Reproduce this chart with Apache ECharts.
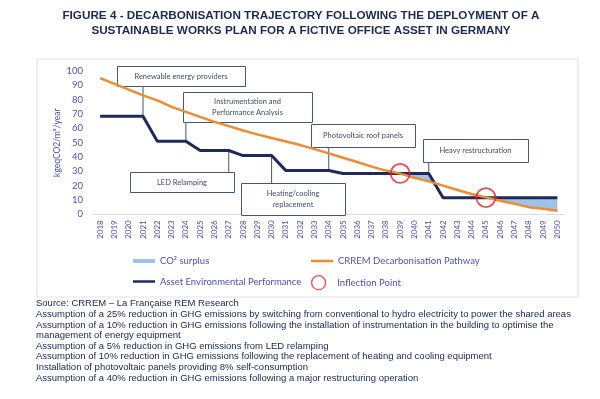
<!DOCTYPE html>
<html>
<head>
<meta charset="utf-8">
<script src="https://cdn.jsdelivr.net/npm/echarts@6/dist/echarts.min.js"></script>
<style>
html,body{margin:0;padding:0;background:#fff;}
#chart{width:600px;height:399px;}
</style>
</head>
<body>
<div id="chart"></div>
<script>
// ---------- DATA ----------
const years = ['2018','2019','2020','2021','2022','2023','2024','2025','2026','2027','2028',
  '2029','2030','2031','2032','2033','2034','2035','2036','2037','2038','2039','2040','2041',
  '2042','2043','2044','2045','2046','2047','2048','2049','2050'];

const crremPathway = [95, 91, 87, 83, 79.5, 75, 71.5, 68, 64.5, 61.5, 58.5,
  55.8, 53.3, 50.8, 48.3, 45.5, 42.5, 39.5, 36.5, 33.3, 30.5, 28.4, 25.5, 23,
  20, 17, 14.2, 11.8, 9.5, 7.3, 5, 3.8, 2.5];

const assetPerformance = [68.5, 68.5, 68.5, 68.5, 51, 51, 51, 44.5, 44.5, 44.5, 41,
  41, 41, 30.5, 30.5, 30.5, 30.5, 28.5, 28.5, 28.5, 28.5, 28.5, 28.5, 28.5,
  11.5, 11.5, 11.5, 11.5, 11.5, 11.5, 11.5, 11.5, 11.5];

const inflectionYears = ['2039', '2045'];
const inflectionValues = [28.5, 11.7];

const yTicks = { min: 0, max: 100, interval: 10 };

const annotationTexts = ['Renewable energy providers', 'Instrumentation and\nPerformance Analysis',
  'LED Relamping', 'Heating/cooling\nreplacement', 'Photovoltaic roof panels', 'Heavy restructuration'];
const annotationYears = ['2021', '2024', '2027', '2030', '2034', '2041'];

const sourceLines = [
  'Source: CRREM \u2013 La Fran\u00e7aise REM Research',
  'Assumption of a 25% reduction in GHG emissions by switching from conventional to hydro electricity to power the shared areas',
  'Assumption of a 10% reduction in GHG emissions following the installation of instrumentation in the building to optimise the',
  'management of energy equipment',
  'Assumption of a 5% reduction in GHG emissions from LED relamping',
  'Assumption of 10% reduction in GHG emissions following the replacement of heating and cooling equipment',
  'Installation of photovoltaic panels providing 8% self-consumption',
  'Assumption of a 40% reduction in GHG emissions following a major restructuring operation'
];

// ---------- LAYOUT / STYLE ----------
const annotationBoxes = [ // x, y, w, h (pixels)
  [117, 66, 128, 20],
  [183, 92, 129, 30],
  [130, 172, 104, 20],
  [241, 183, 104, 32],
  [311, 124, 104, 23],
  [423, 139, 105, 23]
];
const BLUE_TXT = '#4c50c8';
const NAVY = '#1e2a5e';
const ORANGE = '#f28a30';
const SURPLUS = '#9dc3e6';
const BOX = '#485670';

// derived: surplus polygons (navy above orange), in index units
function surplusPolygons() {
  const polys = [];
  let upper = [], lower = [];
  const n = years.length;
  const d = i => assetPerformance[i] - crremPathway[i];
  function flush() {
    if (upper.length > 1) polys.push(upper.concat(lower.slice().reverse()));
    upper = []; lower = [];
  }
  for (let i = 0; i < n; i++) {
    if (d(i) >= 0) {
      upper.push([i, assetPerformance[i]]);
      lower.push([i, crremPathway[i]]);
    }
    if (i < n - 1) {
      const a = d(i), b = d(i + 1);
      if ((a > 0 && b < 0) || (a < 0 && b > 0)) {
        const t = a / (a - b);
        const v = assetPerformance[i] + t * (assetPerformance[i + 1] - assetPerformance[i]);
        upper.push([i + t, v]); lower.push([i + t, v]);
        if (a > 0) flush();
      }
    }
  }
  flush();
  return polys;
}
const polys = surplusPolygons();

const chart = echarts.init(document.getElementById('chart'), null, { renderer: 'canvas' });

const legendText = { fontFamily: 'Lato', fontSize: 9.5, color: BLUE_TXT };

const option = {
  animation: false,
  textStyle: { fontFamily: 'Lato' },
  grid: { left: 93, right: 35.5, top: 71, bottom: 184.7, containLabel: false },
  xAxis: [{
    type: 'category', data: years, boundaryGap: true,
    axisLine: { lineStyle: { color: '#d9dbf3', width: 1 } },
    axisTick: { show: false },
    axisLabel: { rotate: 90, interval: 0, fontSize: 8, color: BLUE_TXT, margin: 6, fontFamily: 'Lato' }
  }, {
    type: 'value', min: -0.5, max: 32.5, show: false
  }],
  yAxis: {
    type: 'value', min: yTicks.min, max: yTicks.max, interval: yTicks.interval,
    splitLine: { show: false }, axisLine: { show: false }, axisTick: { show: false },
    axisLabel: { fontSize: 9.5, color: BLUE_TXT, margin: 10, fontFamily: 'Lato' },
    name: 'kgeqCO2/m\u00b2/year', nameLocation: 'middle', nameGap: 31, nameRotate: 90,
    nameMoveOverlap: false,
    nameTextStyle: { fontSize: 8.5, color: BLUE_TXT, fontFamily: 'Lato' }
  },
  legend: [
    { data: [{ name: 'CO\u00b2 surplus', icon: 'rect' }], left: 128, top: 251, itemWidth: 22, itemHeight: 4, textStyle: legendText, selectedMode: false },
    { data: [{ name: 'CRREM Decarbonisation Pathway', icon: 'rect' }], left: 306, top: 251, itemWidth: 22, itemHeight: 2.5, textStyle: legendText, selectedMode: false },
    { data: [{ name: 'Asset Environmental Performance', icon: 'rect' }], left: 128, top: 271.5, itemWidth: 22, itemHeight: 2.5, textStyle: legendText, selectedMode: false },
    { data: [{ name: 'Inflection Point', icon: 'circle', itemStyle: { color: 'rgba(0,0,0,0)', borderColor: '#ea2027', borderWidth: 1.3 } }],
      left: 306, top: 270, itemWidth: 17, itemHeight: 14, textStyle: Object.assign({ padding: [0, 0, 0, 5] }, legendText), selectedMode: false }
  ],
  series: [
    {
      type: 'custom', name: 'CO\u00b2 surplus', xAxisIndex: 1, yAxisIndex: 0,
      itemStyle: { color: SURPLUS },
      data: polys.map((p, i) => [i]),
      encode: { x: 0 },
      clip: false,
      renderItem: function (params, api) {
        const poly = polys[params.dataIndex];
        return { type: 'polygon', shape: { points: poly.map(p => api.coord(p)) }, style: { fill: SURPLUS } };
      },
      z: 2
    },
    {
      type: 'line', name: 'Asset Environmental Performance', data: assetPerformance,
      symbol: 'none', lineStyle: { color: NAVY, width: 3 }, itemStyle: { color: NAVY }, z: 3
    },
    {
      type: 'line', name: 'CRREM Decarbonisation Pathway', data: crremPathway,
      symbol: 'none', lineStyle: { color: ORANGE, width: 2.5 }, itemStyle: { color: ORANGE }, z: 4
    },
    {
      type: 'scatter', name: 'Inflection Point',
      data: inflectionYears.map((y, i) => [y, inflectionValues[i]]),
      symbol: 'circle', symbolSize: 19,
      itemStyle: { color: 'rgba(0,0,0,0)', borderColor: '#ea2027', borderWidth: 1.8 }, z: 5
    }
  ]
};
chart.setOption(option);

// graphics: frame, title, source notes, annotation boxes with leaders
const g = [];
g.push({ type: 'rect', shape: { x: 37, y: 59, width: 541, height: 238 }, style: { fill: 'none', stroke: '#dfe1f6', lineWidth: 1.2 }, z: 0, silent: true });
g.push({ type: 'text', x: 301, y: 16, style: { text: 'FIGURE 4 - DECARBONISATION TRAJECTORY FOLLOWING THE DEPLOYMENT OF A', font: 'bold 11.7px "Liberation Sans"', fill: '#1c2a58', textAlign: 'center', textVerticalAlign: 'middle' } });
g.push({ type: 'text', x: 301, y: 31, style: { text: 'SUSTAINABLE WORKS PLAN FOR A FICTIVE OFFICE ASSET IN GERMANY', font: 'bold 11.7px "Liberation Sans"', fill: '#1c2a58', textAlign: 'center', textVerticalAlign: 'middle' } });
sourceLines.forEach((t, i) => {
  g.push({ type: 'text', x: 36, y: 303.7 + i * 10.6, style: { text: t, font: '9.5px "Liberation Sans"', fill: '#1a2556', textAlign: 'left', textVerticalAlign: 'middle' } });
});
annotationTexts.forEach((t, i) => {
  const [bx, by, bw, bh] = annotationBoxes[i];
  const idx = years.indexOf(annotationYears[i]);
  const p = chart.convertToPixel({ xAxisIndex: 0, yAxisIndex: 0 }, [annotationYears[i], assetPerformance[idx]]);
  const below = by > p[1];
  g.push({ type: 'line', shape: { x1: p[0], y1: below ? by : by + bh, x2: p[0], y2: p[1] }, style: { stroke: BOX, lineWidth: 1 }, z: 1, silent: true });
  g.push({ type: 'rect', shape: { x: bx + 0.5, y: by + 0.5, width: bw, height: bh }, style: { fill: '#fff', stroke: BOX, lineWidth: 1 }, z: 1, silent: true });
  g.push({ type: 'text', x: bx + bw / 2, y: by + bh / 2 + 0.5, style: { text: t, font: '7.5px Lato', fill: '#424d66', textAlign: 'center', textVerticalAlign: 'middle', lineHeight: 11 }, z: 1, silent: true });
});
chart.setOption({ graphic: { elements: g } });
</script>
</body>
</html>
